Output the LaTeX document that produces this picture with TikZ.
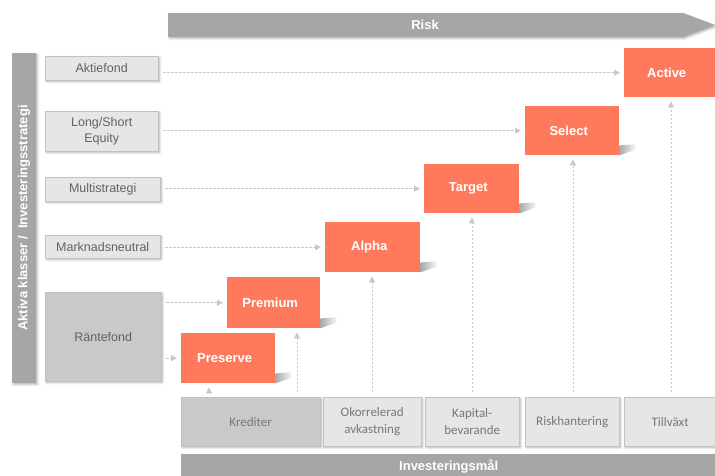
\documentclass[tikz,border=0pt]{standalone}
\usepackage{fontspec}
\setmainfont{Liberation Sans}
\newfontfamily\goalfont{Carlito}
\usetikzlibrary{positioning,arrows.meta,shadows.blur}
\definecolor{risk-orange}{HTML}{FF7A5C}
\definecolor{bar-gray}{HTML}{A6A6A6}
\definecolor{light-gray}{HTML}{E6E6E6}
\definecolor{mid-gray}{HTML}{C9C9C9}
\definecolor{edge-gray}{HTML}{C2C2C2}
\definecolor{flow-gray}{HTML}{C8C8C8}
\definecolor{label-gray}{HTML}{626262}
\definecolor{goal-gray}{HTML}{777777}
\definecolor{shadow-gray}{HTML}{A9A9A9}
\tikzstyle{boxshadow}=[blur shadow={shadow xshift=1.5pt,shadow yshift=-1.5pt,shadow opacity=30,shadow blur steps=3}]
\tikzstyle{strategystyle}=[shape=rectangle,fill=light-gray,draw=edge-gray,text=label-gray,align=center,inner sep=2pt,font=\fontsize{12.5}{16}\selectfont,boxshadow]
\tikzstyle{fundstyle}=[strategystyle,fill=mid-gray]
\tikzstyle{productstyle}=[shape=rectangle,fill=risk-orange,draw=none,text=white,font=\bfseries\fontsize{13}{15}\selectfont,execute at end node={\hspace*{7pt}}]
\tikzstyle{goalstyle}=[shape=rectangle,fill=light-gray,draw=edge-gray,text=goal-gray,align=center,inner sep=2pt,font=\goalfont\fontsize{13}{17}\selectfont,boxshadow]
\tikzstyle{creditstyle}=[goalstyle,fill=mid-gray]
\tikzstyle{barstyle}=[shape=rectangle,fill=bar-gray,draw=none,text=white,font=\bfseries\fontsize{13}{15}\selectfont]
\tikzstyle{flowstyle}=[draw=flow-gray,dashed,line width=0.8pt,dash pattern=on 2.5pt off 1.5pt,shorten <=5pt,shorten >=4pt,-{Triangle[length=6pt,width=6pt]}]
\newcommand{\rkbox}[7]{ \draw (#3,#4) node [style=#7, anchor=north west, minimum width=#5, minimum height=#6] (#1) {#2}; }
\newcommand{\rkshadow}[1]{ \shade [left color=shadow-gray, right color=white] (#1.south east) ++(0,-10) -- ++(14,-1) .. controls +(4,0) and +(4,0) .. ++(0,6) -- (#1.south east) -- cycle; }
\newcommand{\rkflow}[2]{ \draw [style=flowstyle] (#1.east |- #2.west) -- (#2.west); }
\newcommand{\rkrise}[3]{ \draw [style=flowstyle] ([xshift=#3]#2.south west |- #1.north) -- ([xshift=#3]#2.south west); }

\begin{document}
\begin{tikzpicture}[x=1pt,y=-1pt]
\useasboundingbox (0,0) rectangle (715,475);
% risk bar
\fill [bar-gray, boxshadow] (168,13) -- (683,13) -- (715,25) -- (683,37) -- (168,37) -- cycle;
\node [barstyle, fill=none] (risk) at (425,25) {Risk};
\node [barstyle, rotate=90, minimum width=330, minimum height=24, boxshadow] (klasser) at (24,218) {Aktiva klasser / \ Investeringsstrategi};
\rkbox{mal}{Investeringsmål}{181}{454}{535}{24}{barstyle} %
% strategies
\rkbox{aktiefond}{Aktiefond}{45}{56}{113}{24}{strategystyle} %
\rkbox{longshort}{Long/Short\\Equity}{45}{111}{113}{40}{strategystyle} %
\rkbox{multi}{Multistrategi}{45}{177}{115}{24}{strategystyle} %
\rkbox{neutral}{Marknadsneutral}{45}{235}{115}{23}{strategystyle} %
\rkbox{ranta}{Räntefond}{45}{292}{116}{89}{fundstyle} %
% products
\rkbox{active}{Active}{624}{48}{92}{49}{productstyle} %
\rkbox{select}{Select}{525}{106}{94}{49}{productstyle} %
\rkbox{target}{Target}{424}{164}{95}{49}{productstyle} %
\rkbox{alpha}{Alpha}{325}{222}{95}{50}{productstyle} %
\rkbox{premium}{Premium}{227}{277}{93}{51}{productstyle} %
\rkbox{preserve}{Preserve}{181}{333}{94}{50}{productstyle} %
\rkshadow{select} %
\rkshadow{target} %
\rkshadow{alpha} %
\rkshadow{premium} %
\rkshadow{preserve} %
% goals
\rkbox{krediter}{Krediter}{181}{397}{139}{49}{creditstyle} %
\rkbox{okorr}{Okorrelerad\\avkastning}{323}{397}{98}{49}{goalstyle} %
\rkbox{kapital}{Kapital-\\bevarande}{425}{397}{94}{49}{goalstyle} %
\rkbox{riskh}{Riskhantering}{525}{397}{94}{49}{goalstyle} %
\rkbox{tillvaxt}{Tillväxt}{624}{397}{92}{49}{goalstyle} %
% flows
\rkflow{aktiefond}{active} %
\rkflow{longshort}{select} %
\rkflow{multi}{target} %
\rkflow{neutral}{alpha} %
\rkflow{ranta}{premium} %
\rkflow{ranta}{preserve} %
\rkrise{krediter}{preserve}{28} %
\rkrise{krediter}{premium}{70} %
\rkrise{okorr}{alpha}{47} %
\rkrise{kapital}{target}{48} %
\rkrise{riskh}{select}{48} %
\rkrise{tillvaxt}{active}{47} %
\end{tikzpicture}
\end{document}
